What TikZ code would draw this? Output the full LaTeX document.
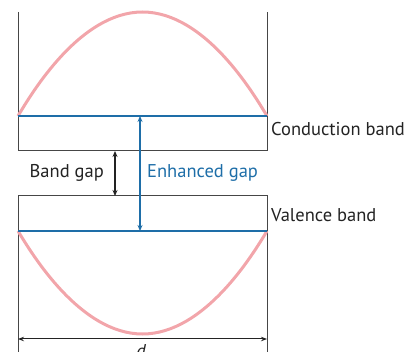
\documentclass[tikz,border=0pt]{standalone}
\usepackage{fontspec}
\setmainfont{PT Sans}
\usetikzlibrary{arrows.meta}
\definecolor{bandblue}{RGB}{30,110,168}
\definecolor{wavepink}{RGB}{242,165,170}
\definecolor{framegray}{RGB}{70,70,70}
\definecolor{txtgray}{RGB}{35,35,35}
\tikzset{
  frame/.style={draw=framegray, line width=1pt},
  level/.style={draw=bandblue, line width=2.6pt},
  wave/.style={draw=wavepink, line width=3pt},
  gaparrow/.style={draw=txtgray, line width=1.3pt, {Stealth[length=6pt,width=5pt]}-{Stealth[length=6pt,width=5pt]}},
  bluearrow/.style={draw=bandblue, line width=1.3pt, {Stealth[length=6pt,width=5pt]}-{Stealth[length=6pt,width=5pt]}},
  dimarrow/.style={draw=txtgray, line width=1pt, {Stealth[length=6pt,width=4.5pt]}-{Stealth[length=6pt,width=4.5pt]}},
  lbl/.style={text=txtgray, font=\fontsize{18.5}{21}\selectfont, inner sep=0pt},
}
\begin{document}
\begin{tikzpicture}[x=1pt,y=-1pt]
\useasboundingbox (0,0) rectangle (412,352);
% coordinates
\coordinate (ULt) at (18,12);
\coordinate (URt) at (267,12);
\coordinate (ULb) at (18,151);
\coordinate (URb) at (267,151);
\coordinate (LLt) at (18,196);
\coordinate (LRt) at (267,196);
\coordinate (LLb) at (18,360);
\coordinate (LRb) at (267,360);
\coordinate (CL) at (18,116);
\coordinate (CR) at (267,116);
\coordinate (VL) at (18,231);
\coordinate (VR) at (267,231);
\coordinate (Cmid) at (140,116);
\coordinate (Vmid) at (140,231);
\coordinate (Gtop) at (115,151);
\coordinate (Gbot) at (115,196);
\coordinate (DL) at (18,339);
\coordinate (DR) at (267,339);
% frames
\draw[frame] (ULt) -- (ULb) -- (URb) -- (URt);
\draw[frame] (LLb) -- (LLt) -- (LRt) -- (LRb);
% waves
\draw[wave] (CL) parabola bend (142.5,12) (CR);
\draw[wave] (VL) parabola bend (142.5,334) (VR);
% levels
\draw[level] (CL) -- (CR);
\draw[level] (VL) -- (VR);
% arrows
\draw[gaparrow] (Gtop) -- (Gbot);
\draw[bluearrow] (Cmid) -- (Vmid);
\draw[dimarrow] (DL) -- (DR);
% labels
\node[lbl, anchor=base west] (cb) at (271,136) {Conduction band};
\node[lbl, anchor=base west] (vb) at (271,222) {Valence band};
\node[lbl, anchor=base east] (bg) at (104,178) {Band gap};
\node[lbl, anchor=base west, text=bandblue] (eg) at (147,178) {Enhanced gap};
\node[lbl, anchor=base] (d) at (141,357) {\itshape d};
\end{tikzpicture}
\end{document}
